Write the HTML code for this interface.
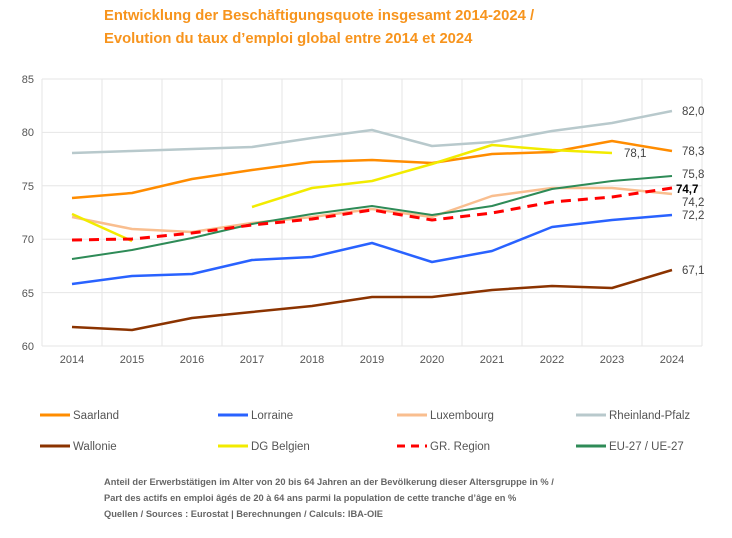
<!DOCTYPE html>
<html><head><meta charset="utf-8"><style>
body{margin:0;background:#fff;}
svg{display:block;font-family:"Liberation Sans",Arial,sans-serif;}
</style></head><body>
<svg width="732" height="538" viewBox="0 0 732 538">
<text x="104" y="20" font-size="14.8" font-weight="bold" fill="#F7941D">Entwicklung der Beschäftigungsquote insgesamt 2014-2024  /</text>
<text x="104" y="43" font-size="14.8" font-weight="bold" fill="#F7941D">Evolution du taux d’emploi global entre 2014 et 2024</text>
<g stroke="#e6e6e6" stroke-width="1">
<line x1="42" y1="79" x2="702" y2="79"/><line x1="42" y1="132.4" x2="702" y2="132.4"/>
<line x1="42" y1="185.8" x2="702" y2="185.8"/><line x1="42" y1="239.2" x2="702" y2="239.2"/>
<line x1="42" y1="292.6" x2="702" y2="292.6"/><line x1="42" y1="346" x2="702" y2="346"/>
<line x1="42" y1="79" x2="42" y2="346"/><line x1="102" y1="79" x2="102" y2="346"/><line x1="162" y1="79" x2="162" y2="346"/>
<line x1="222" y1="79" x2="222" y2="346"/><line x1="282" y1="79" x2="282" y2="346"/><line x1="342" y1="79" x2="342" y2="346"/>
<line x1="402" y1="79" x2="402" y2="346"/><line x1="462" y1="79" x2="462" y2="346"/><line x1="522" y1="79" x2="522" y2="346"/>
<line x1="582" y1="79" x2="582" y2="346"/><line x1="642" y1="79" x2="642" y2="346"/><line x1="702" y1="79" x2="702" y2="346"/>
</g>
<g font-size="11" fill="#555" text-anchor="end">
<text x="34" y="83">85</text><text x="34" y="136">80</text><text x="34" y="190">75</text>
<text x="34" y="243">70</text><text x="34" y="297">65</text><text x="34" y="350">60</text>
</g>
<g font-size="11" fill="#555" text-anchor="middle">
<text x="72" y="363">2014</text><text x="132" y="363">2015</text><text x="192" y="363">2016</text><text x="252" y="363">2017</text>
<text x="312" y="363">2018</text><text x="372" y="363">2019</text><text x="432" y="363">2020</text><text x="492" y="363">2021</text>
<text x="552" y="363">2022</text><text x="612" y="363">2023</text><text x="672" y="363">2024</text>
</g>
<g fill="none" stroke-linejoin="round">
<polyline stroke="#B8C9CC" stroke-width="2.5" points="72,153 132,151 192,149 252,147 312,138 372,130 432,146 492,142 552,131 612,123 672,111"/>
<polyline stroke="#FF8C00" stroke-width="2.5" points="72,198 132,193 192,179 252,170 312,162 372,160 432,163 492,154 552,152 612,141 672,151"/>
<polyline stroke="#F9BE8F" stroke-width="2.5" points="72,217 132,229 192,232 252,223 312,217 372,209 432,217 492,196 552,188 612,188 672,194"/>
<polyline stroke="#2962FF" stroke-width="2.5" points="72,284 132,276 192,274 252,260 312,257 372,243 432,262 492,251 552,227 612,220 672,215"/>
<polyline stroke="#8B3300" stroke-width="2.5" points="72,327 132,330 192,318 252,312 312,306 372,297 432,297 492,290 552,286 612,288 672,270"/>
<polyline stroke="#F2EB00" stroke-width="2.5" points="72,214 132,241"/>
<polyline stroke="#F2EB00" stroke-width="2.5" points="252,207 312,188 372,181 432,164 492,145 552,150 612,153"/>
<polyline stroke="#2E8B57" stroke-width="2" points="72,259 132,250 192,238 252,224 312,214 372,206 432,215 492,206 552,189 612,181 672,176"/>
<polyline stroke="#FF0000" stroke-width="3" stroke-dasharray="10,7" points="72,240 132,239 192,233 252,225 312,219 372,210 432,220 492,213 552,202 612,197 672,188"/>
</g>
<g font-size="11.5" fill="#444">
<text x="682" y="115">82,0</text><text x="624" y="157">78,1</text><text x="682" y="155">78,3</text>
<text x="682" y="178">75,8</text><text x="676" y="193" font-weight="bold" fill="#000">74,7</text>
<text x="682" y="206">74,2</text><text x="682" y="219">72,2</text><text x="682" y="274">67,1</text>
</g>
<g stroke-width="3">
<line x1="40" y1="415" x2="70" y2="415" stroke="#FF8C00"/>
<line x1="218" y1="415" x2="248" y2="415" stroke="#2962FF"/>
<line x1="397" y1="415" x2="427" y2="415" stroke="#F9BE8F"/>
<line x1="576" y1="415" x2="606" y2="415" stroke="#B8C9CC"/>
<line x1="40" y1="446" x2="70" y2="446" stroke="#8B3300"/>
<line x1="218" y1="446" x2="248" y2="446" stroke="#F2EB00"/>
<line x1="397" y1="446" x2="427" y2="446" stroke="#FF0000" stroke-dasharray="8,6"/>
<line x1="576" y1="446" x2="606" y2="446" stroke="#2E8B57"/>
</g>
<g font-size="11.5" fill="#555">
<text x="73" y="419">Saarland</text><text x="251" y="419">Lorraine</text><text x="430" y="419">Luxembourg</text><text x="609" y="419">Rheinland-Pfalz</text>
<text x="73" y="450">Wallonie</text><text x="251" y="450">DG Belgien</text><text x="430" y="450">GR. Region</text><text x="609" y="450">EU-27 / UE-27</text>
</g>
<g font-size="9.3" font-weight="bold" fill="#666">
<text x="104" y="485">Anteil der Erwerbstätigen im Alter von 20 bis 64 Jahren an der Bevölkerung dieser Altersgruppe in % /</text>
<text x="104" y="501">Part des actifs en emploi âgés de 20 à 64 ans parmi la population de cette tranche d’âge en %</text>
<text x="104" y="517">Quellen / Sources : Eurostat | Berechnungen / Calculs: IBA-OIE</text>
</g>
</svg>
</body></html>
